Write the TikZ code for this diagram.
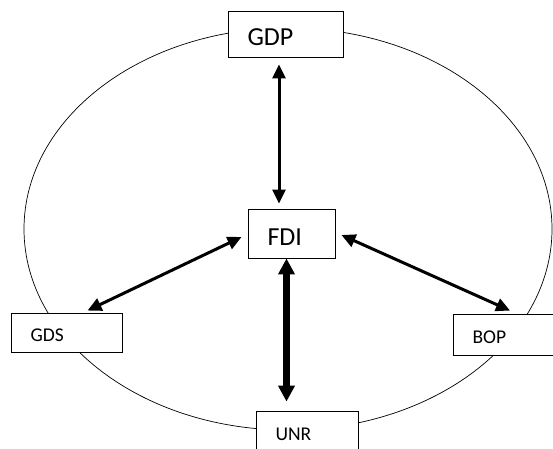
\documentclass[tikz,border=0pt]{standalone}
\usepackage{fontspec}
\setmainfont{Carlito}
\usetikzlibrary{arrows.meta}

\tikzset{
	varbox/.style={draw, fill=white, line width=0.9pt, align=left,
		inner xsep=19.5pt, inner ysep=0pt, text depth=0pt},
	bigbox/.style={varbox, font=\fontsize{26}{30}\selectfont, text height=23pt},
	smallbox/.style={varbox, font=\fontsize{19.5}{23}\selectfont, text height=18pt},
	link/.style={{Triangle[length=14pt,width=13pt]}-{Triangle[length=14pt,width=13pt]},
		line width=3pt},
	thicklink/.style={{Triangle[length=16pt,width=16pt]}-{Triangle[length=16pt,width=16pt]},
		line width=6.5pt}
}

\begin{document}
\begin{tikzpicture}[x=1pt,y=-1pt]
		\useasboundingbox (0,0) rectangle (553,448);
		\clip (0,0) rectangle (553,448);
		%% The outer loop
		\draw[line width=0.7pt] (288,229) ellipse [x radius=264, y radius=201];
		%% The boxes
		\node[bigbox, text width=76pt, minimum height=46pt] (gdp) at (285.5,34) {GDP};
		\node[bigbox, text width=48pt, minimum height=49pt] (fdi) at (291.5,233.5) {FDI};
		\node[smallbox, text width=72pt, minimum height=39pt] (gds) at (66.5,332.5) {GDS};
		\node[smallbox, text width=66pt, minimum height=41pt] (bop) at (505.5,334.5) {BOP};
		\node[smallbox, text width=63pt, minimum height=40pt] (unr) at (307,431) {UNR};
		%% Connecting FDI with the others
		\draw[link] ([xshift=-6.5pt,yshift=-7pt]gdp.south) -- ([xshift=-12.5pt,yshift=5pt]fdi.north);
		\draw[link] ([xshift=-6pt,yshift=-3.5pt]fdi.west) -- ([xshift=21pt,yshift=2pt]gds.north);
		\draw[link] ([xshift=6pt,yshift=-1.5pt]fdi.east) -- ([xshift=4.5pt,yshift=3pt]bop.north);
		\draw[thicklink] ([xshift=-5pt]fdi.south) -- ([xshift=-20.5pt,yshift=9pt]unr.north);
	\end{tikzpicture}
\end{document}
